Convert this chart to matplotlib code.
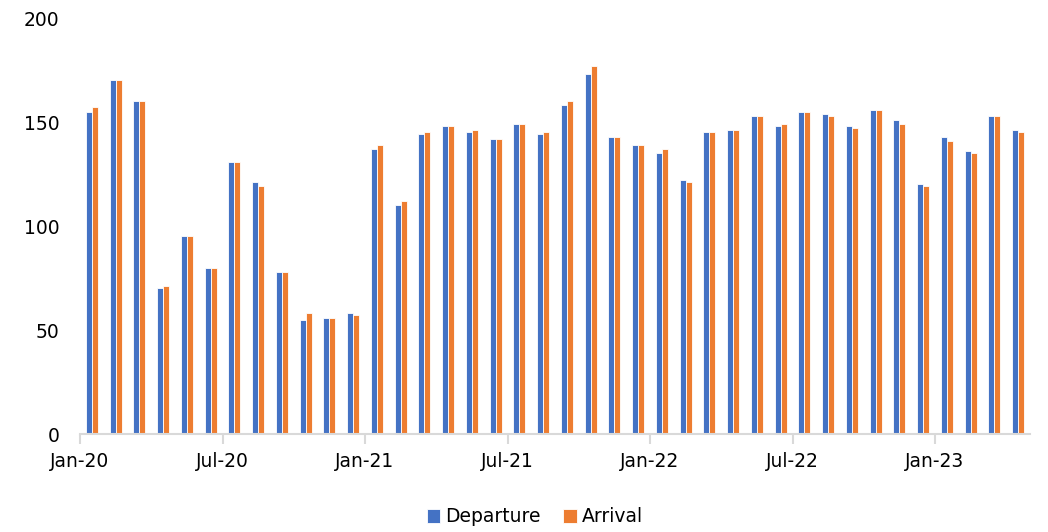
import numpy as np
import matplotlib.pyplot as plt

# Monthly values, Jan-20 .. Apr-23
months = ['Jan-20', 'Feb-20', 'Mar-20', 'Apr-20', 'May-20', 'Jun-20',
          'Jul-20', 'Aug-20', 'Sep-20', 'Oct-20', 'Nov-20', 'Dec-20',
          'Jan-21', 'Feb-21', 'Mar-21', 'Apr-21', 'May-21', 'Jun-21',
          'Jul-21', 'Aug-21', 'Sep-21', 'Oct-21', 'Nov-21', 'Dec-21',
          'Jan-22', 'Feb-22', 'Mar-22', 'Apr-22', 'May-22', 'Jun-22',
          'Jul-22', 'Aug-22', 'Sep-22', 'Oct-22', 'Nov-22', 'Dec-22',
          'Jan-23', 'Feb-23', 'Mar-23', 'Apr-23']
departure = [155, 170, 160, 70, 95, 80, 131, 121, 78, 55, 56, 58,
             137, 110, 144, 148, 145, 142, 149, 144, 158, 173, 143, 139,
             135, 122, 145, 146, 153, 148, 155, 154, 148, 156, 151, 120,
             143, 136, 153, 146]
arrival = [157, 170, 160, 71, 95, 80, 131, 119, 78, 58, 56, 57,
           139, 112, 145, 148, 146, 142, 149, 145, 160, 177, 143, 139,
           137, 121, 145, 146, 153, 149, 155, 153, 147, 156, 149, 119,
           141, 135, 153, 145]

fig = plt.figure(figsize=(10.48, 5.32), dpi=100)
ax = fig.add_axes([80 / 1048, 1 - 434 / 532, 950 / 1048, 416 / 532])

x = np.arange(len(months))
w = 0.25
ax.bar(x - w / 2, departure, w, color='#4472C4', edgecolor='white',
       linewidth=0.6, label='Departure')
ax.bar(x + w / 2, arrival, w, color='#ED7D31', edgecolor='white',
       linewidth=0.6, label='Arrival')

ax.set_xlim(-0.5, len(months) - 0.5)
ax.set_ylim(0, 200)
ax.set_yticks([0, 50, 100, 150, 200])
ax.tick_params(axis='y', length=0, labelsize=13.5, pad=15)

tick_idx = list(range(0, len(months), 6))
ax.set_xticks([i - 0.5 for i in tick_idx])
ax.set_xticklabels([months[i] for i in tick_idx])
ax.tick_params(axis='x', length=7, width=1.5, color='#D9D9D9',
               labelsize=13.5, pad=6)

for s in ['top', 'right', 'left']:
    ax.spines[s].set_visible(False)
ax.spines['bottom'].set_color('#D9D9D9')
ax.spines['bottom'].set_linewidth(1.5)

fig.legend(loc='center', bbox_to_anchor=(535 / 1048, 1 - 517 / 532),
           ncol=2, frameon=False, fontsize=13.5, handlelength=0.7,
           handleheight=0.7, handletextpad=0.3, columnspacing=1.2)

fig.savefig('out.png', dpi=100)
